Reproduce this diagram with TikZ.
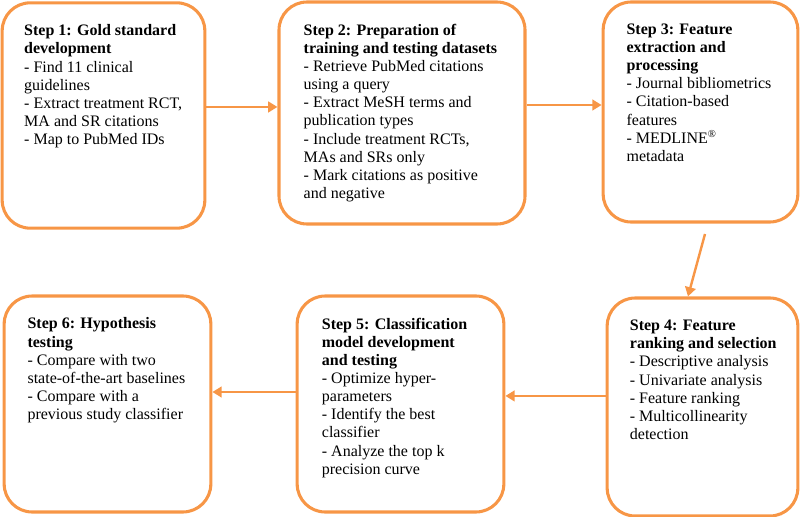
\documentclass[tikz,border=0pt]{standalone}
\usepackage{fontspec}
\setmainfont{Liberation Serif}
\usetikzlibrary{arrows.meta}
\definecolor{steporange}{RGB}{247,150,70}

\begin{document}
\begin{tikzpicture}[x=0.75pt,y=-0.75pt,
		stepbox/.style n args={2}{draw=steporange,line width=2.3pt,rounded corners=21pt,inner sep=0pt,minimum width=#1,minimum height=#2},
		steptext/.style={anchor=north west,align=left,inner sep=0pt,font=\fontsize{12}{13.6}\selectfont},
		flow/.style={draw=steporange,line width=1.8pt,-{Triangle[length=7pt,width=8pt]}}]

		\useasboundingbox (0,0) rectangle (800,517);

		% the six steps
		\node[stepbox={152pt}{169pt}] (s1) at (103.5,115.5) {};
		\node[stepbox={184.5pt}{166.5pt}] (s2) at (402,113) {};
		\node[stepbox={146pt}{165pt}] (s3) at (700.5,112) {};
		\node[stepbox={143pt}{163.5pt}] (s4) at (702.5,407) {};
		\node[stepbox={155pt}{162pt}] (s5) at (400.5,404) {};
		\node[stepbox={155pt}{162pt}] (s6) at (107.5,404) {};

		\node[steptext] (t1) at ([shift={(17.5pt,-17.3pt)}]s1.north west) {\textbf{Step 1: Gold standard}\\ \textbf{development}\\ - Find 11 clinical\\ guidelines\\ - Extract treatment RCT,\\ MA and SR citations\\ - Map to PubMed IDs};
		\node[steptext] (t2) at ([shift={(19.5pt,-17.5pt)}]s2.north west) {\textbf{Step 2: Preparation of}\\ \textbf{training and testing datasets}\\ - Retrieve PubMed citations\\ using a query\\ - Extract MeSH terms and\\ publication types\\ - Include treatment RCTs,\\ MAs and SRs only\\ - Mark citations as positive\\ and negative};
		\node[steptext] (t3) at ([shift={(18.5pt,-17.3pt)}]s3.north west) {\textbf{Step 3: Feature}\\ \textbf{extraction and}\\ \textbf{processing}\\ - Journal bibliometrics\\ - Citation-based\\ features\\ - MEDLINE\textsuperscript{\textregistered}\\ metadata};
		\node[steptext] (t4) at ([shift={(18pt,-17.5pt)}]s4.north west) {\textbf{Step 4: Feature}\\ \textbf{ranking and selection}\\ - Descriptive analysis\\ - Univariate analysis\\ - Feature ranking\\ - Multicollinearity\\ detection};
		\node[steptext] (t5) at ([shift={(19.5pt,-17.3pt)}]s5.north west) {\textbf{Step 5: Classification}\\ \textbf{model development}\\ \textbf{and testing}\\ - Optimize hyper-\\ parameters\\ - Identify the best\\ classifier\\ - Analyze the top k\\ precision curve};
		\node[steptext] (t6) at ([shift={(18.5pt,-17.3pt)}]s6.north west) {\textbf{Step 6: Hypothesis}\\ \textbf{testing}\\ - Compare with two\\ state-of-the-art baselines\\ - Compare with a\\ previous study classifier};

		% connectors
		\coordinate (c34) at (705,234);
		\draw[flow] ([yshift=6.4pt]s1.east) -- ([yshift=6.4pt]s1.east -| s2.west);
		\draw[flow] ([yshift=6pt]s2.east) -- ([yshift=6pt]s2.east -| s3.west);
		\draw[flow] (c34) -- ([xshift=-10.9pt]s4.north);
		\draw[flow] ([yshift=8.3pt]s4.west) -- ([yshift=8.3pt]s4.west -| s5.east);
		\draw[flow] ([yshift=9pt]s5.west) -- ([yshift=9pt]s5.west -| s6.east);

	\end{tikzpicture}
\end{document}
